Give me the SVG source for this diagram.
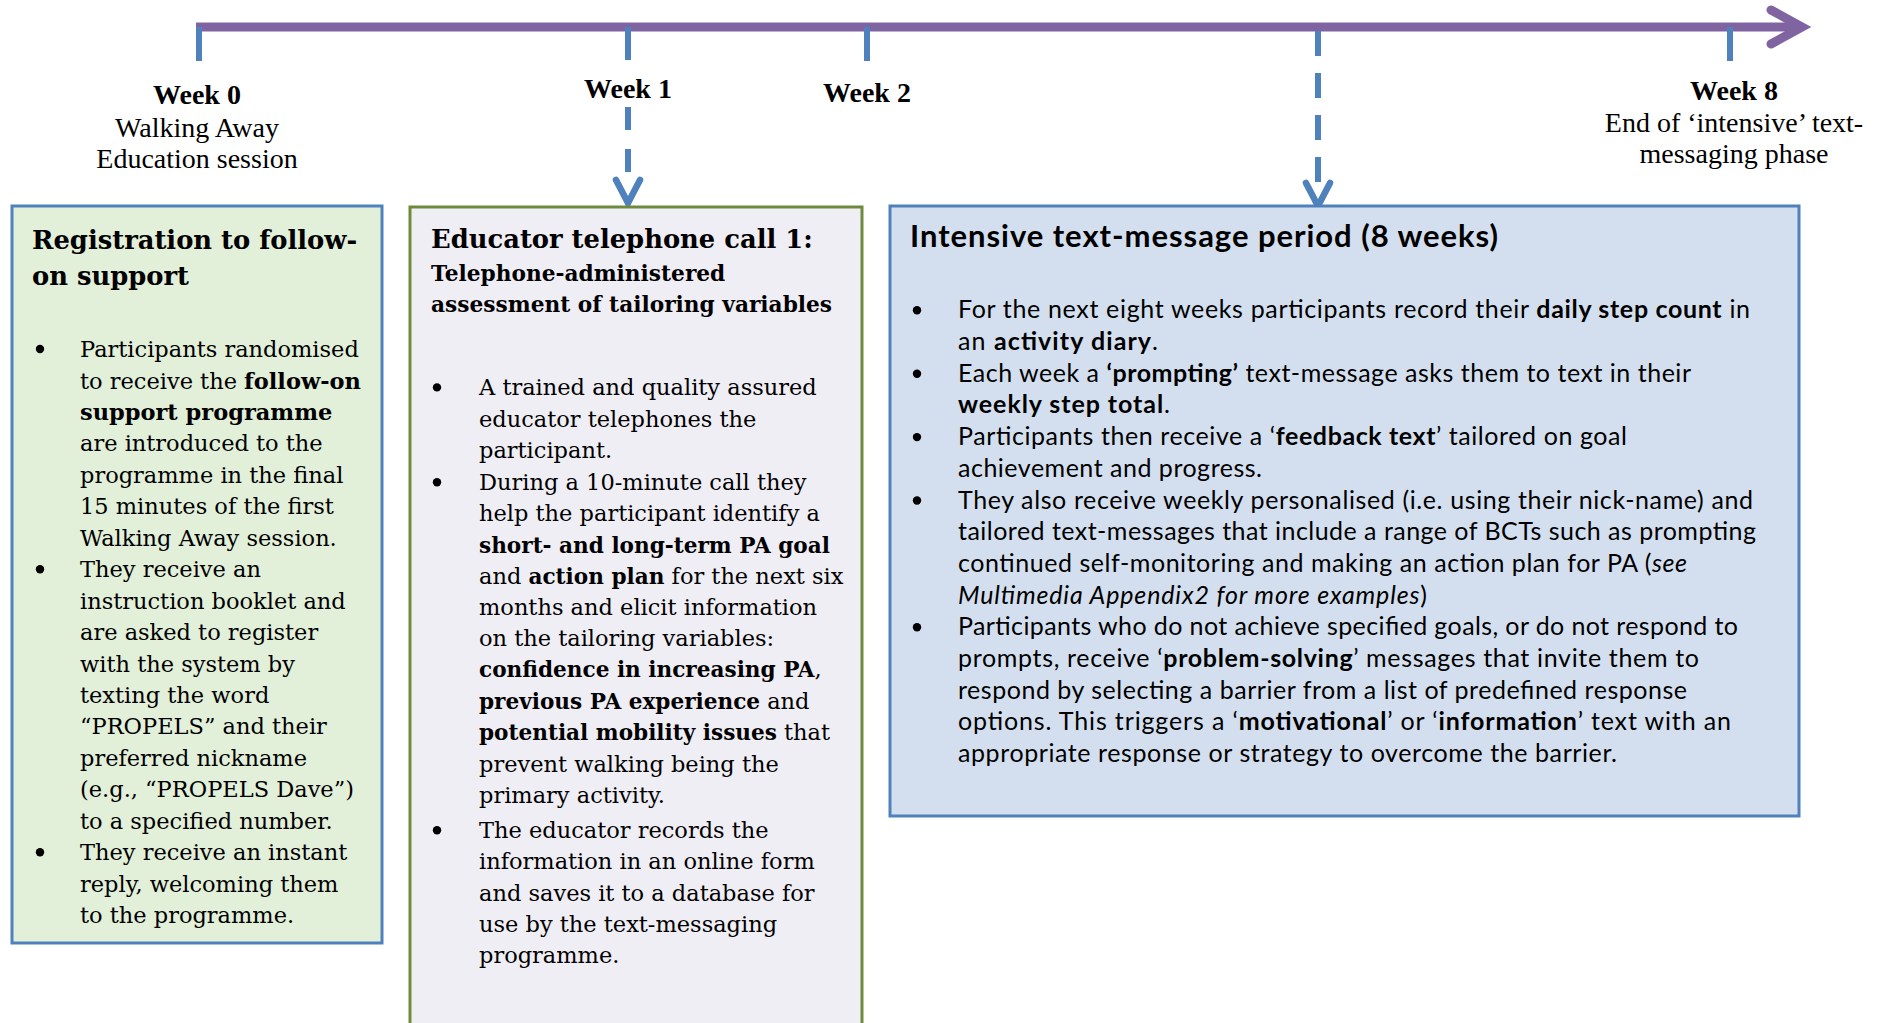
<svg xmlns="http://www.w3.org/2000/svg" width="1881" height="1023" viewBox="0 0 1881 1023">
  <style>
    .lbl { font-family: "Liberation Serif", "Times New Roman", serif; font-size: 28px; fill: #000; text-anchor: middle; }
    .lbl-b { font-weight: bold; }
    .ser { font-family: "DejaVu Serif", serif; font-size: 22.5px; fill: #000; }
    .ser-h { font-family: "DejaVu Serif", serif; font-size: 25.8px; font-weight: bold; fill: #000; }
    .ser-s { font-family: "DejaVu Serif", serif; font-size: 21.7px; font-weight: bold; fill: #000; }
    .sans { font-family: Lato, "Noto Sans", sans-serif; font-size: 25px; fill: #000; }
    .sans-h { font-family: Lato, "Noto Sans", sans-serif; font-size: 31px; font-weight: bold; fill: #000; }
    .b { font-weight: bold; }
    .bn { font-weight: bold; font-size: 21.6px; }
    .i { font-style: italic; }
    .dot { fill: #000; }
    .tick { stroke: #4F81BD; stroke-width: 6; fill: none; }
    .dash { stroke: #4F81BD; stroke-width: 6; fill: none; }
    .chev { stroke: #4F81BD; stroke-width: 6.5; fill: none; stroke-linecap: round; stroke-linejoin: miter; }
    .axis { stroke: #8064A2; stroke-width: 9; fill: none; }
    .axis-head { stroke: #8064A2; stroke-width: 9; fill: none; stroke-linecap: round; stroke-linejoin: miter; }
  </style>
  <defs>
    <!-- open arrow tip, drawn with its point at the origin, pointing down -->
    <path id="chevron" class="chev" d="M-12 -23 L0 0 L12 -23"/>
  </defs>

  <rect width="1881" height="1023" fill="#fff"/>

  <!-- timeline, week ticks and dashed pointers -->
  <g id="connectors">
    <path class="axis" d="M196 27 H1800"/>
    <path class="axis-head" d="M1771 10 L1802 27 L1771 44"/>
    <path class="tick" d="M199 27 V61"/>
    <path class="tick" d="M628 27 V60"/>
    <path class="tick" d="M867 27 V61"/>
    <path class="tick" d="M1730 27 V61"/>
    <path class="dash" d="M628 107 V172" stroke-dasharray="23 19"/>
    <use href="#chevron" x="628" y="203"/>
    <path class="dash" d="M1318 31 V182" stroke-dasharray="25 17"/>
    <use href="#chevron" x="1318" y="206"/>
  </g>

  <!-- week labels -->
  <g id="week0">
    <text class="lbl lbl-b" x="197" y="104">Week 0</text>
    <text class="lbl" x="197" y="137">Walking Away</text>
    <text class="lbl" x="197" y="168">Education session</text>
  </g>
  <g id="week1"><text class="lbl lbl-b" x="628" y="98">Week 1</text></g>
  <g id="week2"><text class="lbl lbl-b" x="867" y="102">Week 2</text></g>
  <g id="week8">
    <text class="lbl lbl-b" x="1734" y="100">Week 8</text>
    <text class="lbl" x="1734" y="132">End of ‘intensive’ text-</text>
    <text class="lbl" x="1734" y="163">messaging phase</text>
  </g>

  <!-- registration box -->
  <g id="registration">
    <rect x="12" y="206" width="370" height="737" fill="#E2EFD9" stroke="#4F81BD" stroke-width="3"/>
    <text class="ser-h" x="32" y="248.5">Registration to follow-</text>
    <text class="ser-h" x="32" y="285">on support</text>
    <circle class="dot" cx="40" cy="349" r="4.2"/>
    <text class="ser" x="80" y="357">Participants randomised</text>
    <text class="ser" x="80" y="388.5">to receive the <tspan class="b">follow-on</tspan></text>
    <text class="ser b" x="80" y="420">support programme</text>
    <text class="ser" x="80" y="451.4">are introduced to the</text>
    <text class="ser" x="80" y="482.8">programme in the final</text>
    <text class="ser" x="80" y="514.3">15 minutes of the first</text>
    <text class="ser" x="80" y="545.7">Walking Away session.</text>
    <circle class="dot" cx="40" cy="569.2" r="4.2"/>
    <text class="ser" x="80" y="577.2">They receive an</text>
    <text class="ser" x="80" y="608.6">instruction booklet and</text>
    <text class="ser" x="80" y="640.1">are asked to register</text>
    <text class="ser" x="80" y="671.5">with the system by</text>
    <text class="ser" x="80" y="703">texting the word</text>
    <text class="ser" x="80" y="734.4">“PROPELS” and their</text>
    <text class="ser" x="80" y="765.9">preferred nickname</text>
    <text class="ser" x="80" y="797.3">(e.g., “PROPELS Dave”)</text>
    <text class="ser" x="80" y="828.8">to a specified number.</text>
    <circle class="dot" cx="40" cy="852.2" r="4.2"/>
    <text class="ser" x="80" y="860.2">They receive an instant</text>
    <text class="ser" x="80" y="891.7">reply, welcoming them</text>
    <text class="ser" x="80" y="923.1">to the programme.</text>
  </g>

  <!-- educator call box -->
  <g id="educator-call">
    <rect x="410" y="207" width="452" height="830" fill="#F0EEF5" stroke="#6E8B3D" stroke-width="3"/>
    <text class="ser-h" x="431" y="248">Educator telephone call 1:</text>
    <text class="ser-s" x="431" y="281">Telephone-administered</text>
    <text class="ser-s" x="431" y="312">assessment of tailoring variables</text>
    <circle class="dot" cx="437" cy="387.4" r="4.2"/>
    <text class="ser" x="479" y="395.4">A trained and quality assured</text>
    <text class="ser" x="479" y="426.6">educator telephones the</text>
    <text class="ser" x="479" y="457.8">participant.</text>
    <circle class="dot" cx="437" cy="482.2" r="4.2"/>
    <text class="ser" x="479" y="490.2">During a 10-minute call they</text>
    <text class="ser" x="479" y="521.4">help the participant identify a</text>
    <text class="ser" x="479" y="552.6"><tspan class="bn">short- and long-term PA goal</tspan></text>
    <text class="ser" x="479" y="583.8">and <tspan class="bn">action plan</tspan> for the next six</text>
    <text class="ser" x="479" y="615">months and elicit information</text>
    <text class="ser" x="479" y="646.2">on the tailoring variables:</text>
    <text class="ser" x="479" y="677.4"><tspan class="bn">confidence in increasing PA</tspan>,</text>
    <text class="ser" x="479" y="708.6"><tspan class="bn">previous PA experience</tspan> and</text>
    <text class="ser" x="479" y="739.8"><tspan class="bn">potential mobility issues</tspan> that</text>
    <text class="ser" x="479" y="772.2">prevent walking being the</text>
    <text class="ser" x="479" y="803.4">primary activity.</text>
    <circle class="dot" cx="437" cy="830.2" r="4.2"/>
    <text class="ser" x="479" y="838.2">The educator records the</text>
    <text class="ser" x="479" y="869.4">information in an online form</text>
    <text class="ser" x="479" y="900.6">and saves it to a database for</text>
    <text class="ser" x="479" y="931.8">use by the text-messaging</text>
    <text class="ser" x="479" y="963">programme.</text>
  </g>

  <!-- intensive text-message period box -->
  <g id="intensive-period">
    <rect x="890" y="206" width="909" height="610" fill="#D3DFEE" stroke="#4F81BD" stroke-width="3"/>
    <text class="sans-h" x="910" y="247" textLength="588">Intensive text-message period (8 weeks)</text>
    <circle class="dot" cx="917" cy="310.3" r="4.2"/>
    <text class="sans" x="958" y="318.3" textLength="792">For the next eight weeks participants record their <tspan class="b">daily step count</tspan> in</text>
    <text class="sans" x="958" y="350" textLength="200">an <tspan class="b">activity diary</tspan>.</text>
    <circle class="dot" cx="917" cy="373.7" r="4.2"/>
    <text class="sans" x="958" y="381.7" textLength="733">Each week a <tspan class="b">‘prompting’</tspan> text-message asks them to text in their</text>
    <text class="sans" x="958" y="413.4" textLength="212"><tspan class="b">weekly step total</tspan>.</text>
    <circle class="dot" cx="917" cy="437.1" r="4.2"/>
    <text class="sans" x="958" y="445.1" textLength="669">Participants then receive a ‘<tspan class="b">feedback text</tspan>’ tailored on goal</text>
    <text class="sans" x="958" y="476.8" textLength="304">achievement and progress.</text>
    <circle class="dot" cx="917" cy="500.5" r="4.2"/>
    <text class="sans" x="958" y="508.5" textLength="795">They also receive weekly personalised (i.e. using their nick-name) and</text>
    <text class="sans" x="958" y="540.2" textLength="798">tailored text-messages that include a range of BCTs such as prompting</text>
    <text class="sans" x="958" y="571.9" textLength="729">continued self-monitoring and making an action plan for PA (<tspan class="i">see</tspan></text>
    <text class="sans" x="958" y="603.6" textLength="469"><tspan class="i">Multimedia Appendix2 for more examples</tspan>)</text>
    <circle class="dot" cx="917" cy="627.3" r="4.2"/>
    <text class="sans" x="958" y="635.3" textLength="780">Participants who do not achieve specified goals, or do not respond to</text>
    <text class="sans" x="958" y="667" textLength="741">prompts, receive ‘<tspan class="b">problem-solving</tspan>’ messages that invite them to</text>
    <text class="sans" x="958" y="698.7" textLength="729">respond by selecting a barrier from a list of predefined response</text>
    <text class="sans" x="958" y="730.4" textLength="773">options. This triggers a ‘<tspan class="b">motivational</tspan>’ or ‘<tspan class="b">information</tspan>’ text with an</text>
    <text class="sans" x="958" y="762.1" textLength="659">appropriate response or strategy to overcome the barrier.</text>
  </g>
</svg>
